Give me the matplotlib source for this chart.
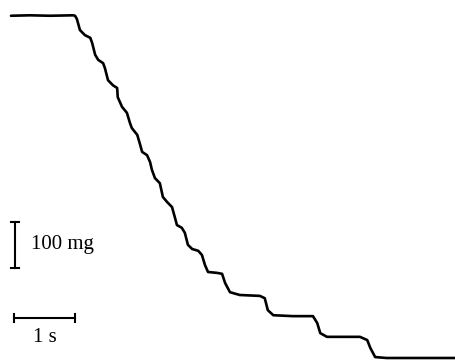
import matplotlib.pyplot as plt

# trace: time (s) and mass (mg, relative to the final plateau)
time_s = [0, 0.31, 0.64, 1.02, 1.05, 1.08, 1.13, 1.21, 1.30, 1.33, 1.38, 1.43, 1.51, 1.54,
          1.59, 1.67, 1.74, 1.75, 1.82, 1.90, 1.95, 1.98, 2.07, 2.11, 2.15, 2.23, 2.28, 2.31,
          2.36, 2.44, 2.49, 2.56, 2.64, 2.69, 2.72, 2.80, 2.85, 2.90, 2.97, 3.07, 3.13, 3.18,
          3.23, 3.38, 3.46, 3.51, 3.59, 3.75, 4.08, 4.16, 4.21, 4.30, 4.62, 4.95, 5.02, 5.07,
          5.18, 5.72, 5.84, 5.89, 5.97, 6.16, 7.28]
mass_mg = [744, 745, 744, 745, 744, 737, 713, 702, 696, 685, 659, 648, 641, 630,
           604, 593, 587, 567, 546, 533, 511, 500, 485, 467, 448, 441, 426, 409,
           391, 380, 350, 339, 328, 304, 289, 283, 272, 246, 237, 233, 224, 202,
           187, 185, 183, 163, 143, 137, 135, 130, 104, 93, 91, 91, 76, 54,
           46, 46, 39, 22, 2, 0, 0]

# scale bars
mass_bar = 100   # mg
time_bar = 1     # s

fig = plt.figure(figsize=(4.56, 3.6), dpi=100)
ax = fig.add_axes([0, 0, 1, 1])
ax.set_xlim(-11 / 61, 445 / 61)
ax.set_ylim(-2 / 0.46, 358 / 0.46)
ax.axis('off')

ax.plot(time_s, mass_mg, color='black', lw=1.9, solid_joinstyle='round', solid_capstyle='round')

# vertical scale bar
vx, vy = 0.066, 196
ax.plot([vx, vx], [vy, vy + mass_bar], color='black', lw=1.5)
ax.plot([vx - 0.065, vx + 0.065], [vy, vy], color='black', lw=1.5)
ax.plot([vx - 0.065, vx + 0.065], [vy + mass_bar, vy + mass_bar], color='black', lw=1.5)
ax.text(0.33, vy + mass_bar / 2, '100 mg', family='Liberation Serif', fontsize=15,
        va='center', ha='left')

# horizontal scale bar
hx, hy = 0.05, 87
ax.plot([hx, hx + time_bar], [hy, hy], color='black', lw=1.5)
ax.plot([hx, hx], [hy - 8, hy + 8], color='black', lw=1.5)
ax.plot([hx + time_bar, hx + time_bar], [hy - 8, hy + 8], color='black', lw=1.5)
ax.text(hx + time_bar / 2, 44, '1 s', family='Liberation Serif', fontsize=15,
        va='center', ha='center')

fig.savefig('out.png', dpi=100)
